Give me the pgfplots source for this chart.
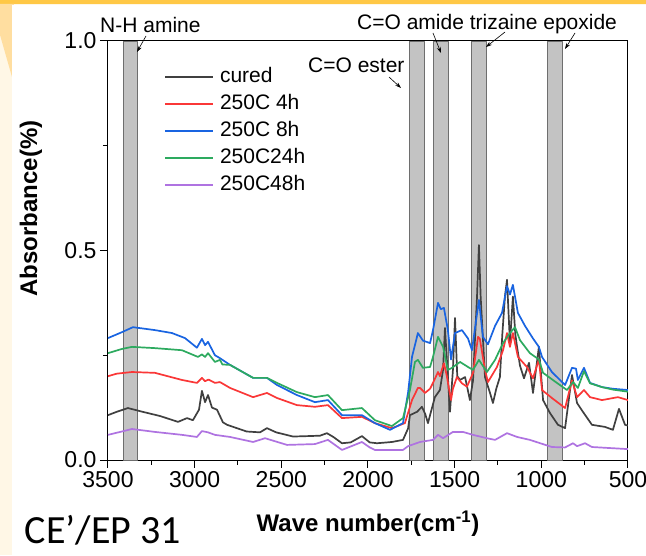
\documentclass[border=0pt]{standalone}
\usepackage{fontspec}
\setmainfont{Liberation Sans}
\newfontfamily\calib{Carlito}
\usepackage{pgfplots}
\pgfplotsset{compat=1.18}
\usetikzlibrary{arrows.meta}

\definecolor{bgcream}{RGB}{255,247,230}
\definecolor{topbar}{RGB}{255,200,70}
\definecolor{paleor}{RGB}{255,222,160}
\definecolor{bandfill}{RGB}{195,195,195}
\definecolor{bandedge}{RGB}{110,110,110}
\definecolor{cCured}{RGB}{64,64,64}
\definecolor{c4h}{RGB}{250,55,55}
\definecolor{c8h}{RGB}{25,100,225}
\definecolor{c24h}{RGB}{45,170,95}
\definecolor{c48h}{RGB}{175,115,225}

\begin{document}
\begin{tikzpicture}[x=1pt,y=1pt]
% slide background
\fill[bgcream] (0,0) rectangle (646,555);
\fill[topbar] (0,551) rectangle (646,555);
\fill[paleor] (0,551) -- (14,551) -- (12,478) -- (0,520) -- cycle;
\fill[white] (12,0) rectangle (646,550);
\path[use as bounding box] (0,0) rectangle (646,555);

\begin{axis}[
  at={(108pt,95pt)}, anchor=south west,
  scale only axis, width=520pt, height=419pt,
  xmin=500, xmax=3500, x dir=reverse, ymin=0, ymax=1,
  xtick={500,1000,...,3500}, ytick={0,0.5,1},
  minor x tick num=1, minor y tick num=1,
  tick align=outside, xtick pos=bottom, ytick pos=left,
  major tick length=8pt, minor tick length=5pt,
  axis line style={line width=1pt}, every tick/.style={line width=1pt, black},
  /pgf/number format/assume math mode=true,
  every tick label/.append style={font=\fontsize{23}{27}\selectfont},
  xticklabel style={/pgf/number format/1000 sep={}},
  yticklabel style={/pgf/number format/.cd, fixed, fixed zerofill, precision=1},
  xlabel={Wave number(cm\textsuperscript{-1})},
  ylabel={Absorbance(\%)},
  label style={font=\bfseries\fontsize{24}{28}\selectfont},
  xlabel style={at={(axis description cs:0.5,-0.153)}, anchor=center},
  ylabel style={at={(axis description cs:-0.148,0.6)}, anchor=center},
  legend style={draw=none, fill=none, inner sep=0pt,
    at={(axis description cs:0.108,0.937)}, anchor=north west,
    font=\fontsize{21}{25}\selectfont, row sep=8pt,
    nodes={text height=15pt, text depth=4pt, inner sep=0pt},
    /tikz/every odd column/.append style={column sep=6pt}},
  legend cell align=left,
  legend image code/.code={\draw[#1] (0pt,0pt) -- (48pt,0pt);},
  every axis plot/.append style={line width=1.7pt, line join=round},
]
% marker bands
\addplot[fill=bandfill, draw=bandedge, line width=0.8pt, forget plot] coordinates {(3410,1)(3330,1)} \closedcycle;
\addplot[fill=bandfill, draw=bandedge, line width=0.8pt, forget plot] coordinates {(1762,1)(1673,1)} \closedcycle;
\addplot[fill=bandfill, draw=bandedge, line width=0.8pt, forget plot] coordinates {(1625,1)(1538,1)} \closedcycle;
\addplot[fill=bandfill, draw=bandedge, line width=0.8pt, forget plot] coordinates {(1405,1)(1318,1)} \closedcycle;
\addplot[fill=bandfill, draw=bandedge, line width=0.8pt, forget plot] coordinates {(966,1)(880,1)} \closedcycle;

\addplot[cCured] coordinates {
(3500,0.107)(3450,0.115)(3385,0.124)(3300,0.115)(3200,0.105)(3096,0.091)(3044,0.100)(3010,0.095)
(2975,0.120)(2958,0.165)(2940,0.138)(2923,0.155)(2900,0.125)(2871,0.120)(2837,0.090)(2813,0.084)
(2700,0.068)(2623,0.066)(2583,0.076)(2530,0.066)(2433,0.056)(2350,0.057)(2277,0.058)(2237,0.064)
(2200,0.055)(2150,0.040)(2100,0.042)(2035,0.057)(1990,0.042)(1948,0.040)(1862,0.043)(1798,0.048)
(1769,0.075)(1758,0.107)(1717,0.115)(1689,0.127)(1670,0.110)(1654,0.088)(1640,0.110)(1614,0.150)
(1585,0.167)(1567,0.215)(1556,0.315)(1545,0.240)(1527,0.115)(1510,0.215)(1498,0.339)(1485,0.200)
(1469,0.191)(1440,0.198)(1412,0.143)(1394,0.190)(1371,0.390)(1360,0.513)(1350,0.390)(1325,0.198)
(1296,0.160)(1279,0.136)(1260,0.170)(1239,0.198)(1225,0.300)(1210,0.390)(1198,0.430)(1181,0.279)
(1164,0.390)(1150,0.300)(1140,0.270)(1123,0.225)(1100,0.195)(1071,0.232)(1048,0.160)(1014,0.270)
(990,0.143)(950,0.112)(904,0.084)(863,0.076)(823,0.203)(794,0.136)(760,0.115)(708,0.084)
(633,0.079)(587,0.072)(552,0.122)(517,0.084)(500,0.082)};
\addlegendentry{cured}

\addplot[c4h] coordinates {
(3500,0.200)(3450,0.206)(3362,0.210)(3229,0.208)(3073,0.191)(2987,0.184)(2958,0.196)(2940,0.188)
(2920,0.192)(2883,0.184)(2854,0.186)(2796,0.172)(2663,0.150)(2583,0.160)(2525,0.148)(2410,0.131)
(2306,0.127)(2231,0.131)(2150,0.100)(2035,0.103)(1960,0.088)(1862,0.076)(1787,0.088)(1746,0.143)
(1712,0.172)(1700,0.172)(1671,0.160)(1642,0.170)(1625,0.184)(1596,0.210)(1585,0.200)(1562,0.231)
(1545,0.200)(1521,0.143)(1510,0.170)(1487,0.198)(1458,0.183)(1429,0.175)(1394,0.208)(1365,0.294)
(1355,0.290)(1325,0.215)(1308,0.186)(1256,0.222)(1221,0.262)(1198,0.303)(1181,0.270)(1164,0.303)
(1135,0.246)(1083,0.222)(1048,0.195)(1014,0.240)(996,0.167)(939,0.148)(863,0.124)(823,0.190)
(794,0.150)(754,0.167)(719,0.150)(650,0.143)(558,0.150)(500,0.143)};
\addlegendentry{250C 4h}

\addplot[c8h] coordinates {
(3500,0.291)(3420,0.305)(3356,0.317)(3229,0.310)(3131,0.303)(3056,0.291)(2987,0.268)(2958,0.289)
(2940,0.274)(2923,0.282)(2883,0.250)(2854,0.243)(2796,0.227)(2663,0.196)(2583,0.196)(2525,0.179)
(2410,0.155)(2306,0.138)(2231,0.143)(2150,0.107)(2035,0.107)(1960,0.088)(1873,0.072)(1798,0.088)
(1769,0.160)(1746,0.246)(1712,0.303)(1683,0.285)(1642,0.279)(1625,0.310)(1596,0.375)(1580,0.360)
(1562,0.363)(1539,0.310)(1521,0.240)(1498,0.303)(1458,0.310)(1423,0.290)(1400,0.262)(1360,0.382)
(1337,0.294)(1308,0.276)(1267,0.320)(1227,0.351)(1198,0.415)(1181,0.395)(1164,0.418)(1135,0.351)
(1094,0.320)(1048,0.290)(1014,0.270)(996,0.246)(939,0.210)(863,0.179)(823,0.220)(800,0.218)
(789,0.191)(754,0.220)(719,0.184)(650,0.174)(587,0.170)(500,0.167)};
\addlegendentry{250C 8h}

\addplot[c24h] coordinates {
(3500,0.255)(3420,0.265)(3362,0.270)(3229,0.267)(3073,0.262)(2981,0.246)(2958,0.252)(2940,0.246)
(2923,0.255)(2883,0.234)(2854,0.239)(2840,0.228)(2796,0.227)(2663,0.196)(2583,0.196)(2525,0.184)
(2410,0.162)(2306,0.150)(2231,0.155)(2150,0.119)(2035,0.124)(1960,0.095)(1862,0.081)(1798,0.100)
(1758,0.167)(1729,0.234)(1712,0.239)(1683,0.220)(1642,0.222)(1625,0.246)(1596,0.294)(1567,0.270)
(1539,0.215)(1515,0.220)(1469,0.234)(1423,0.222)(1394,0.215)(1360,0.239)(1314,0.210)(1267,0.239)
(1221,0.279)(1181,0.303)(1152,0.317)(1123,0.286)(1066,0.255)(1014,0.240)(990,0.208)(910,0.184)
(852,0.167)(817,0.186)(789,0.172)(754,0.212)(719,0.183)(650,0.174)(587,0.168)(500,0.163)};
\addlegendentry{250C24h}

\addplot[c48h] coordinates {
(3500,0.060)(3420,0.068)(3362,0.074)(3229,0.067)(3073,0.060)(2987,0.055)(2958,0.069)(2923,0.066)
(2883,0.060)(2796,0.055)(2663,0.043)(2594,0.052)(2467,0.036)(2306,0.038)(2231,0.048)(2150,0.024)
(2035,0.043)(1990,0.030)(1960,0.024)(1798,0.024)(1769,0.033)(1700,0.043)(1625,0.048)(1596,0.060)
(1567,0.052)(1510,0.067)(1452,0.067)(1394,0.060)(1314,0.052)(1267,0.048)(1198,0.064)(1140,0.055)
(1066,0.048)(939,0.031)(863,0.030)(817,0.040)(794,0.033)(748,0.040)(708,0.031)(500,0.026)};
\addlegendentry{250C48h}
\end{axis}

% band annotations
\begin{scope}[every node/.style={anchor=base west, inner sep=0pt, font=\fontsize{21}{25}\selectfont}]
\node at (100,522) {N-H amine};
\node at (308,482) {C=O ester};
\node at (357,525) {C=O amide trizaine epoxide};
\end{scope}
\begin{scope}[-{Stealth[length=6pt,width=4pt]}, line width=0.6pt]
\draw (146,519) -- (137,503);
\draw (389,478) -- (401,467);
\draw (433,522) -- (441,502);
\draw (505,523) -- (486,508);
\draw (575,522) -- (565,506);
\end{scope}

\node[inner sep=0pt, font=\calib\fontsize{40}{44}\selectfont] at (103,25) {CE’/EP 31};
\end{tikzpicture}
\end{document}
